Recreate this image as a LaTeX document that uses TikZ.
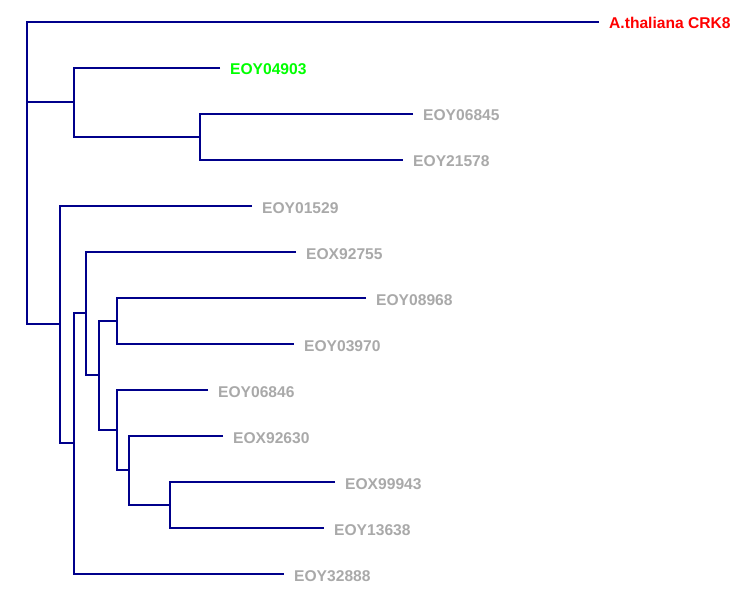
\documentclass[tikz,border=0pt]{standalone}
\usepackage{fontspec}
\setmainfont{Liberation Sans}
\definecolor{treeblue}{RGB}{0,0,139}
\definecolor{leafgray}{RGB}{169,169,169}
\definecolor{leafgreen}{RGB}{0,255,0}
\definecolor{leafred}{RGB}{255,0,0}
\tikzset{
  branch/.style={draw=treeblue, line width=2pt},
  lab/.style={anchor=base west, inner sep=0pt, font=\fontsize{15.6}{18}\selectfont\bfseries, text=leafgray},
}
\begin{document}
\begin{tikzpicture}[x=1pt,y=-1pt]
\useasboundingbox (0,0) rectangle (743,596);
% internal nodes
\coordinate (nR) at (27,173);
\coordinate (nA) at (74,102);
\coordinate (nB) at (200,137);
\coordinate (nC) at (60,324);
\coordinate (nD) at (74,443);
\coordinate (nE) at (86,313);
\coordinate (nF) at (99,375);
\coordinate (nG) at (117,321);
\coordinate (nH) at (117,430);
\coordinate (nI) at (129,470);
\coordinate (nJ) at (170,505);
% leaf tips
\coordinate (t1) at (599,22);
\coordinate (t2) at (220,68);
\coordinate (t3) at (413,114);
\coordinate (t4) at (403,160);
\coordinate (t5) at (252,206);
\coordinate (t6) at (296,252);
\coordinate (t7) at (366,298);
\coordinate (t8) at (294,344);
\coordinate (t9) at (208,390);
\coordinate (t10) at (223,436);
\coordinate (t11) at (335,482);
\coordinate (t12) at (324,528);
\coordinate (t13) at (284,574);
% labels
\node[lab, text=leafred] (l1) at ([xshift=10pt,yshift=-7pt]t1) {A.thaliana CRK8};
\node[lab, text=leafgreen] (l2) at ([xshift=10pt,yshift=-7pt]t2) {EOY04903};
\node[lab] (l3) at ([xshift=10pt,yshift=-7pt]t3) {EOY06845};
\node[lab] (l4) at ([xshift=10pt,yshift=-7pt]t4) {EOY21578};
\node[lab] (l5) at ([xshift=10pt,yshift=-7pt]t5) {EOY01529};
\node[lab] (l6) at ([xshift=10pt,yshift=-7pt]t6) {EOX92755};
\node[lab] (l7) at ([xshift=10pt,yshift=-7pt]t7) {EOY08968};
\node[lab] (l8) at ([xshift=10pt,yshift=-7pt]t8) {EOY03970};
\node[lab] (l9) at ([xshift=10pt,yshift=-7pt]t9) {EOY06846};
\node[lab] (l10) at ([xshift=10pt,yshift=-7pt]t10) {EOX92630};
\node[lab] (l11) at ([xshift=10pt,yshift=-7pt]t11) {EOX99943};
\node[lab] (l12) at ([xshift=10pt,yshift=-7pt]t12) {EOY13638};
\node[lab] (l13) at ([xshift=10pt,yshift=-7pt]t13) {EOY32888};
% branches
\draw[branch] (t1) -| (nR) |- (nC);
\draw[branch] (nR |- nA) -- (nA);
\draw[branch] (t2) -| (nA) |- (nB);
\draw[branch] (t3) -| (nB) |- (t4);
\draw[branch] (t5) -| (nC) |- (nD);
\draw[branch] (nE) -| (nD) |- (t13);
\draw[branch] (t6) -| (nE) |- (nF);
\draw[branch] (nG) -| (nF) |- (nH);
\draw[branch] (t7) -| (nG) |- (t8);
\draw[branch] (t9) -| (nH) |- (nI);
\draw[branch] (t10) -| (nI) |- (nJ);
\draw[branch] (t11) -| (nJ) |- (t12);
\end{tikzpicture}
\end{document}
